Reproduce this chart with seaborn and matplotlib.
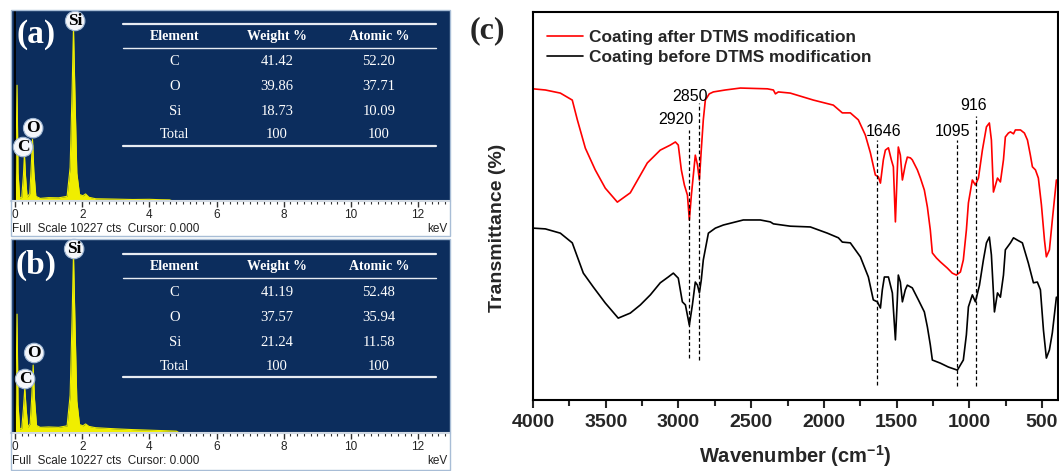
import numpy as np
import pandas as pd
import seaborn as sns
import matplotlib.pyplot as plt
from matplotlib.ticker import MultipleLocator
from matplotlib.patches import Rectangle

# ---- EDS spectra (keV vs counts) ----
kev_a = [0.0, 0.03, 0.06, 0.09, 0.14, 0.2, 0.25, 0.28, 0.31, 0.36, 0.44, 0.48, 0.52, 0.56, 0.62,
         0.75, 1.0, 1.3, 1.55, 1.64, 1.7, 1.74, 1.78, 1.84, 1.92, 2.02, 2.1, 2.2, 2.4, 3.0, 3.5,
         4.0, 4.3, 4.6, 4.7, 12.9]
cts_a = [0, 2500, 6200, 1500, 150, 200, 1400, 2500, 1400, 200, 400, 1800, 3300, 1600, 250,
         140, 180, 170, 250, 1800, 6000, 9300, 6000, 1500, 350, 280, 380, 200, 120, 100, 80,
         90, 70, 60, 0, 0]
kev_b = [0.0, 0.03, 0.06, 0.09, 0.14, 0.2, 0.25, 0.29, 0.33, 0.38, 0.45, 0.5, 0.54, 0.58, 0.64,
         0.75, 1.0, 1.3, 1.55, 1.64, 1.7, 1.74, 1.78, 1.84, 1.92, 2.02, 2.1, 2.2, 2.4, 3.0, 3.5,
         4.0, 4.5, 4.8, 4.9, 12.9]
cts_b = [0, 2500, 6300, 1500, 200, 250, 1300, 2400, 1300, 300, 500, 2000, 3600, 1800, 400,
         300, 320, 300, 380, 2000, 6200, 9500, 6200, 1700, 450, 380, 480, 350, 280, 220, 180,
         150, 120, 100, 0, 0]

# ---- EDS composition tables ----
tab_head = ["Element", "Weight %", "Atomic %"]
tab_a = [["C", "41.42", "52.20"], ["O", "39.86", "37.71"], ["Si", "18.73", "10.09"], ["Total", "100", "100"]]
tab_b = [["C", "41.19", "52.48"], ["O", "37.57", "35.94"], ["Si", "21.24", "11.58"], ["Total", "100", "100"]]

# ---- FTIR spectra (wavenumber cm-1 vs transmittance, arb.) ----
wn_after = [4000, 3915, 3812, 3730, 3695, 3640, 3572, 3503, 3420, 3331, 3214, 3125, 3056, 3021, 3001,
            2980, 2959, 2938, 2925, 2911, 2884, 2869, 2856, 2843, 2829, 2815, 2788, 2760, 2678, 2574,
            2388, 2347, 2333, 2313, 2231, 2072, 1935, 1873, 1818, 1763, 1715, 1680, 1646, 1625, 1611,
            1591, 1577, 1556, 1536, 1522, 1508, 1495, 1488, 1474, 1460, 1440, 1426, 1405, 1392, 1357,
            1336, 1309, 1288, 1268, 1254, 1226, 1199, 1151, 1117, 1089, 1061, 1041, 1020, 1006, 979,
            958, 937, 910, 882, 862, 848, 834, 820, 806, 786, 765, 752, 731, 717, 696, 683, 648, 621,
            600, 580, 566, 545, 525, 504, 483, 470, 449, 429, 401]
t_after = [80.2, 79.9, 79.1, 77.3, 72.2, 64.9, 59.3, 54.6, 51.0, 53.4, 61.1, 64.4, 65.7, 66.5, 65.7,
           59.3, 55.4, 52.8, 46.4, 52.8, 63.1, 60.6, 56.7, 64.4, 72.2, 77.3, 78.9, 79.4, 79.9, 80.4,
           80.2, 79.9, 78.9, 79.4, 79.1, 77.3, 76.0, 74.0, 74.0, 72.2, 68.3, 63.7, 58.0, 57.5, 55.9,
           61.9, 64.4, 65.0, 61.9, 60.1, 45.9, 59.3, 65.2, 63.1, 56.7, 60.6, 62.6, 62.4, 61.9, 59.3,
           57.2, 54.1, 49.7, 43.8, 37.9, 36.6, 35.6, 34.0, 32.7, 32.2, 33.0, 36.1, 43.8, 50.8, 56.7,
           55.4, 57.2, 64.4, 70.4, 71.4, 67.0, 53.6, 55.4, 57.2, 56.2, 61.9, 67.8, 68.8, 69.1, 68.6,
           69.6, 69.6, 68.8, 67.0, 63.1, 60.1, 59.3, 57.2, 50.3, 41.2, 36.9, 38.7, 46.4, 56.7]
wn_before = [4000, 3915, 3812, 3730, 3695, 3654, 3585, 3503, 3414, 3331, 3262, 3193, 3125, 3070, 3035,
             3001, 2973, 2952, 2925, 2904, 2884, 2869, 2856, 2843, 2829, 2794, 2746, 2691, 2554, 2437,
             2368, 2347, 2231, 2093, 1976, 1900, 1873, 1818, 1749, 1694, 1660, 1632, 1611, 1598, 1584,
             1556, 1529, 1508, 1495, 1488, 1474, 1460, 1440, 1426, 1392, 1350, 1309, 1288, 1268, 1254,
             1199, 1144, 1082, 1041, 1020, 1006, 979, 958, 930, 903, 882, 862, 848, 827, 806, 786, 765,
             752, 717, 696, 669, 635, 594, 559, 532, 511, 490, 470, 449, 429, 401]
t_before = [44.3, 44.1, 43.0, 40.5, 36.9, 32.7, 29.1, 25.0, 21.1, 22.4, 24.5, 27.1, 30.2, 31.7, 32.7,
            31.4, 25.3, 24.5, 19.3, 24.5, 30.4, 29.6, 27.6, 30.9, 36.1, 43.0, 44.3, 45.1, 46.4, 46.4,
            45.9, 45.4, 44.8, 44.6, 43.0, 41.8, 40.7, 40.5, 36.9, 31.7, 25.8, 25.3, 23.7, 28.4, 31.7,
            31.7, 27.6, 15.5, 25.8, 32.2, 30.4, 25.3, 28.4, 29.6, 28.9, 25.8, 22.7, 18.8, 14.2, 10.3,
            9.5, 8.5, 7.7, 10.3, 16.8, 24.0, 27.1, 25.3, 29.6, 36.1, 40.5, 42.0, 37.4, 22.7, 27.6, 26.5,
            32.2, 38.7, 40.5, 41.8, 41.2, 40.5, 35.3, 30.2, 30.4, 28.4, 18.0, 10.8, 12.9, 17.3, 26.5]

peak_labels = ["2920", "2850", "1646", "1095", "916"]
peak_lines = [2925, 2860, 1638, 1087, 954]

sns.set_style("ticks")
plt.rcParams["font.family"] = ["Liberation Sans", "DejaVu Sans"]
plt.rcParams["mathtext.default"] = "regular"

W, H = 1059, 471
fig = plt.figure(figsize=(W / 100, H / 100), dpi=100)


def px_box(l, t, r, b):
    return [l / W, 1 - b / H, (r - l) / W, (b - t) / H]


NAVY = "#0c2d5d"
YELLOW = "#f0ee00"
SERIF = ["Liberation Serif", "DejaVu Serif"]


def eds_panel(box, frame, kev, cts, table, tag, labels):
    fig.patches.append(Rectangle((frame[0] / W, 1 - frame[3] / H), (frame[2] - frame[0]) / W,
                                 (frame[3] - frame[1]) / H, transform=fig.transFigure,
                                 fill=False, ec="#a8bdd6", lw=1.0))
    ax = fig.add_axes(px_box(*box))
    ax.set_facecolor(NAVY)
    df = pd.DataFrame({"keV": kev, "cts": cts})
    ax.fill_between(df["keV"], 0, df["cts"], color=YELLOW, lw=0)
    sns.lineplot(data=df, x="keV", y="cts", ax=ax, color=YELLOW, lw=0.8, estimator=None)
    ax.axvline(0, color="black", lw=1.3)
    ax.set_xlim(-0.12, 12.95)
    ax.set_ylim(0, 10227)
    ax.set_xlabel("")
    ax.set_ylabel("")
    ax.set_yticks([])
    for s in ["top", "left", "right"]:
        ax.spines[s].set_visible(False)
    ax.spines["bottom"].set_color("#d0d8e2")
    ax.spines["bottom"].set_linewidth(1.5)
    ax.xaxis.set_major_locator(MultipleLocator(2))
    ax.xaxis.set_minor_locator(MultipleLocator(0.2))
    ax.tick_params(axis="x", which="major", length=4, width=1, color="#333333",
                   labelsize=8.5, labelcolor="#222222", pad=2)
    ax.tick_params(axis="x", which="minor", length=2.5, width=0.8, color="#333333")
    ax.xaxis.set_major_formatter(plt.FuncFormatter(lambda v, p: f"{v:.0f}"))

    # composition table
    x0, x1 = 0.255, 0.968
    cols = [0.373, 0.606, 0.838]
    for yy, lw in [(0.927, 1.6), (0.801, 1.0), (0.288, 1.6)]:
        ax.plot([x0, x1], [yy, yy], transform=ax.transAxes, color="#e8ecf2", lw=lw)
    for cx, h in zip(cols, tab_head):
        ax.text(cx, 0.862, h, transform=ax.transAxes, ha="center", va="center", color="white",
                family=SERIF, fontweight="bold", fontsize=10)
    for ry, row in zip([0.728, 0.597, 0.471, 0.346], table):
        for cx, val in zip(cols, row):
            ax.text(cx, ry, val, transform=ax.transAxes, ha="center", va="center", color="white",
                    family=SERIF, fontsize=10.5)

    ax.text(0.056, 0.87, tag, transform=ax.transAxes, ha="center", va="center", color="white",
            family=SERIF, fontweight="bold", fontsize=24)
    for name, (lx, ly) in labels.items():
        ax.text(lx, ly, name, ha="center", va="center", color="black", family=SERIF,
                fontweight="bold", fontsize=12.5,
                bbox=dict(boxstyle="circle,pad=0.1", fc="#f4f6fa", ec="#9fb6d2", lw=0.8))

    fy = 1 - (box[3] + 28) / H
    fig.text(12 / W, fy, "Full  Scale 10227 cts  Cursor: 0.000", fontsize=8.5, color="#222222",
             va="center", ha="left")
    fig.text(448 / W, fy, "keV", fontsize=8.5, color="#222222", va="center", ha="right")
    return ax


eds_panel((11, 10, 450, 201), (11, 10, 450, 236), kev_a, cts_a, tab_a, "(a)",
          {"Si": (1.79, 9640), "O": (0.54, 3900), "C": (0.24, 2890)})
eds_panel((11, 240, 450, 433), (11, 239, 450, 470), kev_b, cts_b, tab_b, "(b)",
          {"Si": (1.76, 9750), "O": (0.57, 4240), "C": (0.30, 2860)})

# ---- FTIR panel ----
ax = fig.add_axes(px_box(533, 12, 1058, 400))
ftir = pd.concat([
    pd.DataFrame({"wn": wn_after, "T": t_after, "s": "Coating after DTMS modification"}),
    pd.DataFrame({"wn": wn_before, "T": t_before, "s": "Coating before DTMS modification"}),
])
sns.lineplot(data=ftir, x="wn", y="T", hue="s", ax=ax, estimator=None, lw=1.2,
             palette={"Coating after DTMS modification": "#ff0000",
                      "Coating before DTMS modification": "black"})
for wn, lab, (y0, y1), (tx, ty) in zip(
        peak_lines, peak_labels,
        [(10.8, 69.6), (10.3, 76.5), (3.9, 67.0), (3.6, 67.0), (3.6, 73.2)],
        [(3021, 72.4), (2917, 78.1), (1592, 69.1), (1116, 69.1), (971, 75.8)]):
    ax.plot([wn, wn], [y0, y1], color="black", lw=0.9, ls=(0, (3, 2)))
    ax.text(tx, ty, lab, ha="center", va="center", fontsize=11.5, color="black")

ax.set_xlim(4000, 390)
ax.set_ylim(0, 100)
ax.set_yticks([])
ax.set_xlabel("")
ax.set_ylabel("")
ax.xaxis.set_major_locator(MultipleLocator(500))
ax.xaxis.set_minor_locator(MultipleLocator(250))
ax.tick_params(axis="x", which="major", length=6, width=1.5, labelsize=14, pad=4)
ax.tick_params(axis="x", which="minor", length=4, width=1.5)
for lbl in ax.get_xticklabels():
    lbl.set_fontweight("bold")
for s in ax.spines.values():
    s.set_linewidth(1.5)
    s.set_color("black")
leg = ax.legend(loc="upper left", bbox_to_anchor=(0.0, 0.99), frameon=False,
                prop={"weight": "bold", "size": 12.4}, handlelength=2.1, handletextpad=0.35,
                labelspacing=0.3, borderaxespad=0.4)
fig.text(497 / W, 1 - 228 / H, "Transmittance (%)", rotation=90, ha="center", va="center",
         fontsize=14, fontweight="bold")
fig.text(795 / W, 1 - 469 / H, "Wavenumber (cm$^{-1}$)", ha="center", va="bottom",
         fontsize=14.5, fontweight="bold")
fig.text(487 / W, 1 - 31 / H, "(c)", ha="center", va="center", fontsize=23,
         fontweight="bold", family=SERIF)

fig.savefig("out.png", dpi=100)
